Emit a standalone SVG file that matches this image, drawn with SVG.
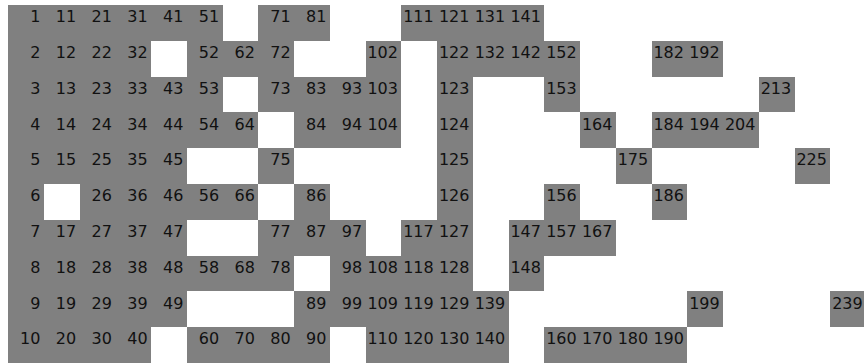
<svg xmlns="http://www.w3.org/2000/svg" xmlns:xlink="http://www.w3.org/1999/xlink" width="864" height="363" viewBox="0 0 864 363">
<style>
.box{fill:#808080;shape-rendering:crispEdges}
text{font-family:"DejaVu Sans","Liberation Sans",sans-serif;font-size:16px;fill:#111;text-anchor:end}
</style>
<defs><rect id="b" class="box" width="35.75" height="35.8"/></defs>
<rect width="864" height="363" fill="#fff"/>
<g id="cells">
<g id="n1" transform="translate(8,5)"><use href="#b"/><text x="32.45" y="17.3">1</text></g>
<g id="n2" transform="translate(8,40.8)"><use href="#b"/><text x="32.45" y="17.3">2</text></g>
<g id="n3" transform="translate(8,76.6)"><use href="#b"/><text x="32.45" y="17.3">3</text></g>
<g id="n4" transform="translate(8,112.4)"><use href="#b"/><text x="32.45" y="17.3">4</text></g>
<g id="n5" transform="translate(8,148.2)"><use href="#b"/><text x="32.45" y="17.3">5</text></g>
<g id="n6" transform="translate(8,184)"><use href="#b"/><text x="32.45" y="17.3">6</text></g>
<g id="n7" transform="translate(8,219.8)"><use href="#b"/><text x="32.45" y="17.3">7</text></g>
<g id="n8" transform="translate(8,255.6)"><use href="#b"/><text x="32.45" y="17.3">8</text></g>
<g id="n9" transform="translate(8,291.4)"><use href="#b"/><text x="32.45" y="17.3">9</text></g>
<g id="n10" transform="translate(8,327.2)"><use href="#b"/><text x="32.45" y="17.3">10</text></g>
<g id="n11" transform="translate(43.75,5)"><use href="#b"/><text x="32.45" y="17.3">11</text></g>
<g id="n12" transform="translate(43.75,40.8)"><use href="#b"/><text x="32.45" y="17.3">12</text></g>
<g id="n13" transform="translate(43.75,76.6)"><use href="#b"/><text x="32.45" y="17.3">13</text></g>
<g id="n14" transform="translate(43.75,112.4)"><use href="#b"/><text x="32.45" y="17.3">14</text></g>
<g id="n15" transform="translate(43.75,148.2)"><use href="#b"/><text x="32.45" y="17.3">15</text></g>
<g id="n17" transform="translate(43.75,219.8)"><use href="#b"/><text x="32.45" y="17.3">17</text></g>
<g id="n18" transform="translate(43.75,255.6)"><use href="#b"/><text x="32.45" y="17.3">18</text></g>
<g id="n19" transform="translate(43.75,291.4)"><use href="#b"/><text x="32.45" y="17.3">19</text></g>
<g id="n20" transform="translate(43.75,327.2)"><use href="#b"/><text x="32.45" y="17.3">20</text></g>
<g id="n21" transform="translate(79.5,5)"><use href="#b"/><text x="32.45" y="17.3">21</text></g>
<g id="n22" transform="translate(79.5,40.8)"><use href="#b"/><text x="32.45" y="17.3">22</text></g>
<g id="n23" transform="translate(79.5,76.6)"><use href="#b"/><text x="32.45" y="17.3">23</text></g>
<g id="n24" transform="translate(79.5,112.4)"><use href="#b"/><text x="32.45" y="17.3">24</text></g>
<g id="n25" transform="translate(79.5,148.2)"><use href="#b"/><text x="32.45" y="17.3">25</text></g>
<g id="n26" transform="translate(79.5,184)"><use href="#b"/><text x="32.45" y="17.3">26</text></g>
<g id="n27" transform="translate(79.5,219.8)"><use href="#b"/><text x="32.45" y="17.3">27</text></g>
<g id="n28" transform="translate(79.5,255.6)"><use href="#b"/><text x="32.45" y="17.3">28</text></g>
<g id="n29" transform="translate(79.5,291.4)"><use href="#b"/><text x="32.45" y="17.3">29</text></g>
<g id="n30" transform="translate(79.5,327.2)"><use href="#b"/><text x="32.45" y="17.3">30</text></g>
<g id="n31" transform="translate(115.25,5)"><use href="#b"/><text x="32.45" y="17.3">31</text></g>
<g id="n32" transform="translate(115.25,40.8)"><use href="#b"/><text x="32.45" y="17.3">32</text></g>
<g id="n33" transform="translate(115.25,76.6)"><use href="#b"/><text x="32.45" y="17.3">33</text></g>
<g id="n34" transform="translate(115.25,112.4)"><use href="#b"/><text x="32.45" y="17.3">34</text></g>
<g id="n35" transform="translate(115.25,148.2)"><use href="#b"/><text x="32.45" y="17.3">35</text></g>
<g id="n36" transform="translate(115.25,184)"><use href="#b"/><text x="32.45" y="17.3">36</text></g>
<g id="n37" transform="translate(115.25,219.8)"><use href="#b"/><text x="32.45" y="17.3">37</text></g>
<g id="n38" transform="translate(115.25,255.6)"><use href="#b"/><text x="32.45" y="17.3">38</text></g>
<g id="n39" transform="translate(115.25,291.4)"><use href="#b"/><text x="32.45" y="17.3">39</text></g>
<g id="n40" transform="translate(115.25,327.2)"><use href="#b"/><text x="32.45" y="17.3">40</text></g>
<g id="n41" transform="translate(151,5)"><use href="#b"/><text x="32.45" y="17.3">41</text></g>
<g id="n43" transform="translate(151,76.6)"><use href="#b"/><text x="32.45" y="17.3">43</text></g>
<g id="n44" transform="translate(151,112.4)"><use href="#b"/><text x="32.45" y="17.3">44</text></g>
<g id="n45" transform="translate(151,148.2)"><use href="#b"/><text x="32.45" y="17.3">45</text></g>
<g id="n46" transform="translate(151,184)"><use href="#b"/><text x="32.45" y="17.3">46</text></g>
<g id="n47" transform="translate(151,219.8)"><use href="#b"/><text x="32.45" y="17.3">47</text></g>
<g id="n48" transform="translate(151,255.6)"><use href="#b"/><text x="32.45" y="17.3">48</text></g>
<g id="n49" transform="translate(151,291.4)"><use href="#b"/><text x="32.45" y="17.3">49</text></g>
<g id="n51" transform="translate(186.75,5)"><use href="#b"/><text x="32.45" y="17.3">51</text></g>
<g id="n52" transform="translate(186.75,40.8)"><use href="#b"/><text x="32.45" y="17.3">52</text></g>
<g id="n53" transform="translate(186.75,76.6)"><use href="#b"/><text x="32.45" y="17.3">53</text></g>
<g id="n54" transform="translate(186.75,112.4)"><use href="#b"/><text x="32.45" y="17.3">54</text></g>
<g id="n56" transform="translate(186.75,184)"><use href="#b"/><text x="32.45" y="17.3">56</text></g>
<g id="n58" transform="translate(186.75,255.6)"><use href="#b"/><text x="32.45" y="17.3">58</text></g>
<g id="n60" transform="translate(186.75,327.2)"><use href="#b"/><text x="32.45" y="17.3">60</text></g>
<g id="n62" transform="translate(222.5,40.8)"><use href="#b"/><text x="32.45" y="17.3">62</text></g>
<g id="n64" transform="translate(222.5,112.4)"><use href="#b"/><text x="32.45" y="17.3">64</text></g>
<g id="n66" transform="translate(222.5,184)"><use href="#b"/><text x="32.45" y="17.3">66</text></g>
<g id="n68" transform="translate(222.5,255.6)"><use href="#b"/><text x="32.45" y="17.3">68</text></g>
<g id="n70" transform="translate(222.5,327.2)"><use href="#b"/><text x="32.45" y="17.3">70</text></g>
<g id="n71" transform="translate(258.25,5)"><use href="#b"/><text x="32.45" y="17.3">71</text></g>
<g id="n72" transform="translate(258.25,40.8)"><use href="#b"/><text x="32.45" y="17.3">72</text></g>
<g id="n73" transform="translate(258.25,76.6)"><use href="#b"/><text x="32.45" y="17.3">73</text></g>
<g id="n75" transform="translate(258.25,148.2)"><use href="#b"/><text x="32.45" y="17.3">75</text></g>
<g id="n77" transform="translate(258.25,219.8)"><use href="#b"/><text x="32.45" y="17.3">77</text></g>
<g id="n78" transform="translate(258.25,255.6)"><use href="#b"/><text x="32.45" y="17.3">78</text></g>
<g id="n80" transform="translate(258.25,327.2)"><use href="#b"/><text x="32.45" y="17.3">80</text></g>
<g id="n81" transform="translate(294,5)"><use href="#b"/><text x="32.45" y="17.3">81</text></g>
<g id="n83" transform="translate(294,76.6)"><use href="#b"/><text x="32.45" y="17.3">83</text></g>
<g id="n84" transform="translate(294,112.4)"><use href="#b"/><text x="32.45" y="17.3">84</text></g>
<g id="n86" transform="translate(294,184)"><use href="#b"/><text x="32.45" y="17.3">86</text></g>
<g id="n87" transform="translate(294,219.8)"><use href="#b"/><text x="32.45" y="17.3">87</text></g>
<g id="n89" transform="translate(294,291.4)"><use href="#b"/><text x="32.45" y="17.3">89</text></g>
<g id="n90" transform="translate(294,327.2)"><use href="#b"/><text x="32.45" y="17.3">90</text></g>
<g id="n93" transform="translate(329.75,76.6)"><use href="#b"/><text x="32.45" y="17.3">93</text></g>
<g id="n94" transform="translate(329.75,112.4)"><use href="#b"/><text x="32.45" y="17.3">94</text></g>
<g id="n97" transform="translate(329.75,219.8)"><use href="#b"/><text x="32.45" y="17.3">97</text></g>
<g id="n98" transform="translate(329.75,255.6)"><use href="#b"/><text x="32.45" y="17.3">98</text></g>
<g id="n99" transform="translate(329.75,291.4)"><use href="#b"/><text x="32.45" y="17.3">99</text></g>
<g id="n102" transform="translate(365.5,40.8)"><use href="#b"/><text x="32.45" y="17.3">102</text></g>
<g id="n103" transform="translate(365.5,76.6)"><use href="#b"/><text x="32.45" y="17.3">103</text></g>
<g id="n104" transform="translate(365.5,112.4)"><use href="#b"/><text x="32.45" y="17.3">104</text></g>
<g id="n108" transform="translate(365.5,255.6)"><use href="#b"/><text x="32.45" y="17.3">108</text></g>
<g id="n109" transform="translate(365.5,291.4)"><use href="#b"/><text x="32.45" y="17.3">109</text></g>
<g id="n110" transform="translate(365.5,327.2)"><use href="#b"/><text x="32.45" y="17.3">110</text></g>
<g id="n111" transform="translate(401.25,5)"><use href="#b"/><text x="32.45" y="17.3">111</text></g>
<g id="n117" transform="translate(401.25,219.8)"><use href="#b"/><text x="32.45" y="17.3">117</text></g>
<g id="n118" transform="translate(401.25,255.6)"><use href="#b"/><text x="32.45" y="17.3">118</text></g>
<g id="n119" transform="translate(401.25,291.4)"><use href="#b"/><text x="32.45" y="17.3">119</text></g>
<g id="n120" transform="translate(401.25,327.2)"><use href="#b"/><text x="32.45" y="17.3">120</text></g>
<g id="n121" transform="translate(437,5)"><use href="#b"/><text x="32.45" y="17.3">121</text></g>
<g id="n122" transform="translate(437,40.8)"><use href="#b"/><text x="32.45" y="17.3">122</text></g>
<g id="n123" transform="translate(437,76.6)"><use href="#b"/><text x="32.45" y="17.3">123</text></g>
<g id="n124" transform="translate(437,112.4)"><use href="#b"/><text x="32.45" y="17.3">124</text></g>
<g id="n125" transform="translate(437,148.2)"><use href="#b"/><text x="32.45" y="17.3">125</text></g>
<g id="n126" transform="translate(437,184)"><use href="#b"/><text x="32.45" y="17.3">126</text></g>
<g id="n127" transform="translate(437,219.8)"><use href="#b"/><text x="32.45" y="17.3">127</text></g>
<g id="n128" transform="translate(437,255.6)"><use href="#b"/><text x="32.45" y="17.3">128</text></g>
<g id="n129" transform="translate(437,291.4)"><use href="#b"/><text x="32.45" y="17.3">129</text></g>
<g id="n130" transform="translate(437,327.2)"><use href="#b"/><text x="32.45" y="17.3">130</text></g>
<g id="n131" transform="translate(472.75,5)"><use href="#b"/><text x="32.45" y="17.3">131</text></g>
<g id="n132" transform="translate(472.75,40.8)"><use href="#b"/><text x="32.45" y="17.3">132</text></g>
<g id="n139" transform="translate(472.75,291.4)"><use href="#b"/><text x="32.45" y="17.3">139</text></g>
<g id="n140" transform="translate(472.75,327.2)"><use href="#b"/><text x="32.45" y="17.3">140</text></g>
<g id="n141" transform="translate(508.5,5)"><use href="#b"/><text x="32.45" y="17.3">141</text></g>
<g id="n142" transform="translate(508.5,40.8)"><use href="#b"/><text x="32.45" y="17.3">142</text></g>
<g id="n147" transform="translate(508.5,219.8)"><use href="#b"/><text x="32.45" y="17.3">147</text></g>
<g id="n148" transform="translate(508.5,255.6)"><use href="#b"/><text x="32.45" y="17.3">148</text></g>
<g id="n152" transform="translate(544.25,40.8)"><use href="#b"/><text x="32.45" y="17.3">152</text></g>
<g id="n153" transform="translate(544.25,76.6)"><use href="#b"/><text x="32.45" y="17.3">153</text></g>
<g id="n156" transform="translate(544.25,184)"><use href="#b"/><text x="32.45" y="17.3">156</text></g>
<g id="n157" transform="translate(544.25,219.8)"><use href="#b"/><text x="32.45" y="17.3">157</text></g>
<g id="n160" transform="translate(544.25,327.2)"><use href="#b"/><text x="32.45" y="17.3">160</text></g>
<g id="n164" transform="translate(580,112.4)"><use href="#b"/><text x="32.45" y="17.3">164</text></g>
<g id="n167" transform="translate(580,219.8)"><use href="#b"/><text x="32.45" y="17.3">167</text></g>
<g id="n170" transform="translate(580,327.2)"><use href="#b"/><text x="32.45" y="17.3">170</text></g>
<g id="n175" transform="translate(615.75,148.2)"><use href="#b"/><text x="32.45" y="17.3">175</text></g>
<g id="n180" transform="translate(615.75,327.2)"><use href="#b"/><text x="32.45" y="17.3">180</text></g>
<g id="n182" transform="translate(651.5,40.8)"><use href="#b"/><text x="32.45" y="17.3">182</text></g>
<g id="n184" transform="translate(651.5,112.4)"><use href="#b"/><text x="32.45" y="17.3">184</text></g>
<g id="n186" transform="translate(651.5,184)"><use href="#b"/><text x="32.45" y="17.3">186</text></g>
<g id="n190" transform="translate(651.5,327.2)"><use href="#b"/><text x="32.45" y="17.3">190</text></g>
<g id="n192" transform="translate(687.25,40.8)"><use href="#b"/><text x="32.45" y="17.3">192</text></g>
<g id="n194" transform="translate(687.25,112.4)"><use href="#b"/><text x="32.45" y="17.3">194</text></g>
<g id="n199" transform="translate(687.25,291.4)"><use href="#b"/><text x="32.45" y="17.3">199</text></g>
<g id="n204" transform="translate(723,112.4)"><use href="#b"/><text x="32.45" y="17.3">204</text></g>
<g id="n213" transform="translate(758.75,76.6)"><use href="#b"/><text x="32.45" y="17.3">213</text></g>
<g id="n225" transform="translate(794.5,148.2)"><use href="#b"/><text x="32.45" y="17.3">225</text></g>
<g id="n239" transform="translate(830.25,291.4)"><use href="#b"/><text x="32.45" y="17.3">239</text></g>
</g>
<g id="connectors"/>
</svg>
